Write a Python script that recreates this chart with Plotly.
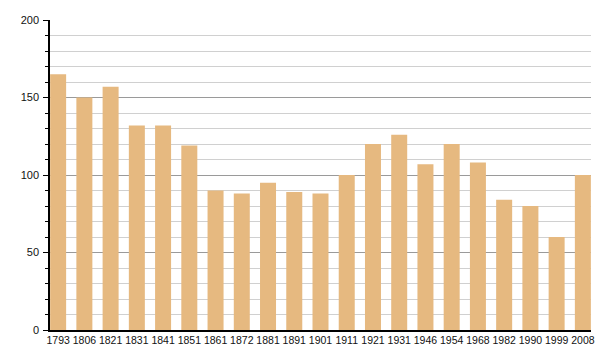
import plotly.graph_objects as go

years = ["1793", "1806", "1821", "1831", "1841", "1851", "1861", "1872", "1881", "1891",
         "1901", "1911", "1921", "1931", "1946", "1954", "1968", "1982", "1990", "1999", "2008"]
population = [165, 150, 157, 132, 132, 119, 90, 88, 95, 89,
              88, 100, 120, 126, 107, 120, 108, 84, 80, 60, 100]

idx = list(range(len(years)))

fig = go.Figure()
fig.add_trace(go.Bar(
    x=idx, y=population,
    marker=dict(color="#E6B980", line=dict(width=0)),
    hoverinfo="x+y",
))

fig.update_layout(
    width=600, height=360,
    margin=dict(l=50, r=9, t=20, b=30, autoexpand=False),
    paper_bgcolor="white", plot_bgcolor="white",
    bargap=0.39,
    showlegend=False,
    font=dict(family="Liberation Sans, Arial, sans-serif", size=11, color="#111"),
    xaxis=dict(
        range=[-0.31, 20.31],
        tickmode="array", tickvals=idx, ticktext=years,
        tickangle=0, automargin=False,
        showgrid=False, zeroline=False,
        showline=True, linecolor="black", linewidth=1.5,
        ticks="", ticklen=0,
        tickfont=dict(size=10.5, color="#111"),
    ),
    yaxis=dict(
        range=[0, 200], automargin=False,
        tickmode="linear", tick0=0, dtick=50,
        showgrid=True, gridcolor="#9a9a9a", gridwidth=1,
        zeroline=False,
        showline=True, linecolor="black", linewidth=1.5,
        ticks="outside", ticklen=5, tickcolor="black",
        ticklabelstandoff=2,
        tickfont=dict(size=11, color="#111"),
        minor=dict(dtick=10, showgrid=True, gridcolor="#d0d0d0", gridwidth=1,
                   ticks="outside", ticklen=3, tickcolor="black"),
    ),
)

fig.write_html("out.html", config={"displayModeBar": False},
               post_script="document.body.style.margin='0';")
